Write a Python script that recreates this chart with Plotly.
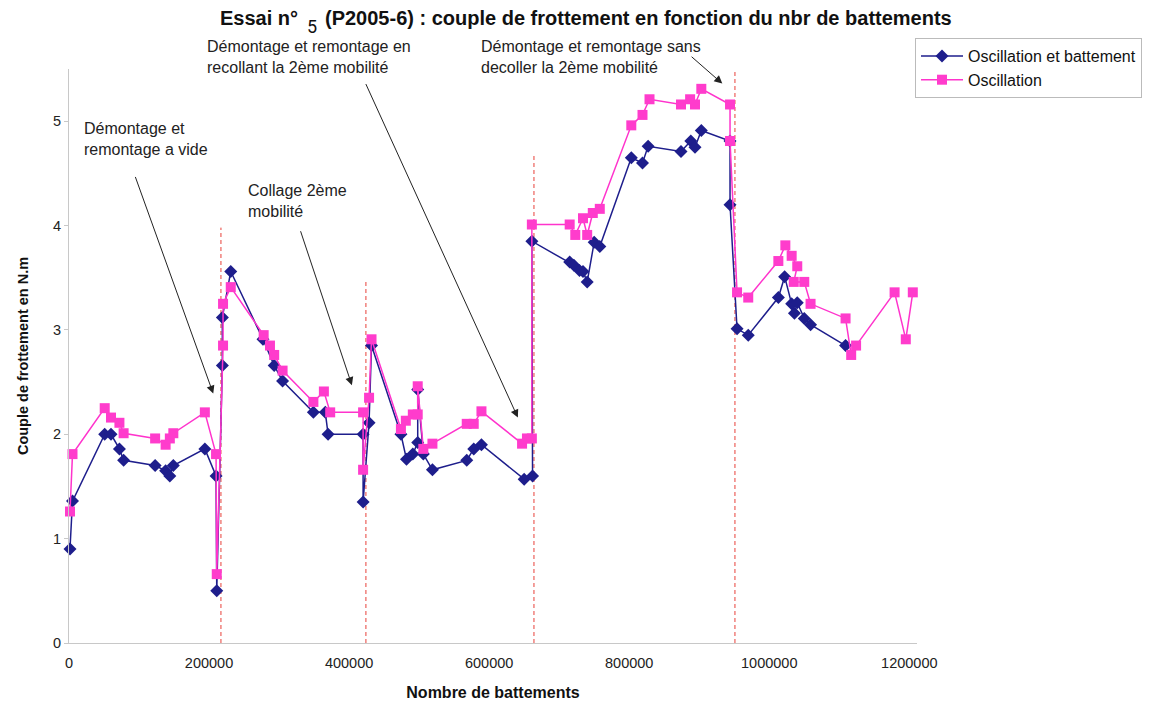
import plotly.graph_objects as go

# Number of beats (x) and friction torque (N.m) for both measurement modes
x_osc_batt = [1400, 5000, 51000, 60000, 72000, 78000, 123000, 138000, 144000, 149000, 194000, 210000, 211000,
              219000, 219000, 231000, 277000, 293000, 305000, 349000, 366000, 370000, 420000, 420000, 428500, 432000,
              474000, 482000, 491000, 498000, 498000, 506000, 519000, 568000, 578000, 589000, 650000, 662000,
              661000, 715000, 721000, 729000, 734000, 740000, 750000, 758000, 803000, 819000, 827000, 874000,
              888000, 894000, 903000, 944000, 944000, 954000, 970000, 1013000, 1022000, 1032000, 1036000, 1040000,
              1050000, 1059000, 1109000]
y_osc_batt = [0.90, 1.36, 2.00, 2.00, 1.86, 1.75, 1.70, 1.65, 1.60, 1.70, 1.86, 1.60, 0.50,
              2.66, 3.12, 3.56, 2.91, 2.66, 2.51, 2.21, 2.21, 2.00, 2.00, 1.35, 2.11, 2.85,
              2.00, 1.76, 1.81, 1.92, 2.43, 1.81, 1.66, 1.75, 1.86, 1.90, 1.57, 1.60,
              3.85, 3.65, 3.62, 3.57, 3.56, 3.46, 3.84, 3.80, 4.65, 4.60, 4.76, 4.71,
              4.81, 4.75, 4.91, 4.81, 4.20, 3.01, 2.95, 3.31, 3.51, 3.25, 3.16, 3.26,
              3.11, 3.05, 2.85]

x_osc = [1400, 5000, 51000, 60000, 72000, 78000, 123000, 138000, 144000, 149000, 194000, 210000, 211000,
         220000, 220000, 231000, 278000, 287000, 293000, 305000, 349000, 364000, 373000, 420000, 420000, 428500,
         432000, 474000, 481000, 491000, 498000, 498000, 506000, 519000, 568000, 578000, 589000, 647000, 654000,
         661000, 661000, 715000, 723000, 734000, 740000, 748000, 758000, 803000, 819000, 829000, 874000, 887000,
         894000, 903000, 944000, 944000, 954000, 970000, 1013000, 1023000, 1032000, 1040000, 1035000, 1050000,
         1059000, 1109000, 1117000, 1124000, 1179000, 1195000, 1205000]
y_osc = [1.26, 1.81, 2.25, 2.16, 2.11, 2.01, 1.96, 1.90, 1.96, 2.01, 2.21, 1.81, 0.66,
         2.85, 3.25, 3.41, 2.95, 2.85, 2.76, 2.61, 2.31, 2.41, 2.21, 2.21, 1.66, 2.35,
         2.91, 2.05, 2.13, 2.19, 2.19, 2.46, 1.86, 1.91, 2.10, 2.10, 2.22, 1.91, 1.96,
         1.96, 4.01, 4.01, 3.91, 4.07, 3.91, 4.12, 4.16, 4.96, 5.06, 5.21, 5.16, 5.21,
         5.16, 5.31, 5.16, 4.81, 3.36, 3.31, 3.66, 3.81, 3.71, 3.61, 3.46, 3.46,
         3.25, 3.11, 2.76, 2.85, 3.36, 2.91, 3.36]

# Re-assembly events: position and height of the marker line
event_x = [217000, 424000, 664000, 951000]
event_top = [3.98, 3.48, 4.68, 5.5]

# Event labels with arrow head / tail positions (data coordinates)
notes = [
    ("Démontage et<br>remontage a vide", 82, 118, (206000, 2.39), (94000, 4.48)),
    ("Collage 2ème<br>mobilité", 246, 180, (404000, 2.47), (330000, 3.96)),
    ("Démontage et remontage en<br>recollant la 2ème mobilité", 205, 36, (641000, 2.16), (423000, 5.37)),
    ("Démontage et remontage sans<br>decoller la 2ème mobilité", 479, 36, (933000, 5.36), (887000, 5.63)),
]

FONT = "Liberation Sans, Arial, sans-serif"
L, R, T, B = 69, 239, 69, 59
W, H = 1156, 702
PW, PH = W - L - R, H - T - B


def px_x(px):
    return (px - L) / PW


def px_y(py):
    return (H - B - py) / PH


fig = go.Figure()

fig.add_trace(go.Scatter(
    x=x_osc_batt, y=y_osc_batt, mode="lines+markers", name="Oscillation et battement",
    line=dict(color="#1e1e8c", width=1.5),
    marker=dict(symbol="diamond", size=10, color="#1e1e8c"),
    cliponaxis=False,
))
fig.add_trace(go.Scatter(
    x=x_osc, y=y_osc, mode="lines+markers", name="Oscillation",
    line=dict(color="#ff33cc", width=1.5),
    marker=dict(symbol="square", size=10, color="#ff3ccc"),
    cliponaxis=False,
))

shapes = []
for ex, top in zip(event_x, event_top):
    shapes.append(dict(type="line", xref="x", yref="y", x0=ex, x1=ex, y0=0, y1=top,
                       line=dict(color="#e8403a", width=1, dash="4px,3px"), layer="below"))

annotations = []
for text, px, py, head, tail in notes:
    annotations.append(dict(
        text=text, xref="paper", yref="paper", x=px_x(px), y=px_y(py),
        xanchor="left", yanchor="top", align="left", showarrow=False,
        font=dict(family=FONT, size=16, color="#222222"),
    ))
    annotations.append(dict(
        text="", xref="x", yref="y", x=head[0], y=head[1],
        axref="x", ayref="y", ax=tail[0], ay=tail[1],
        showarrow=True, arrowhead=2, arrowsize=1.6, arrowwidth=1, arrowcolor="#222222",
    ))

# Chart title, with the run number set apart in its own box
TITLE_FONT = dict(family=FONT, size=20, color="#111111")
annotations.append(dict(
    text="<b>Essai n°</b>", xref="paper", yref="paper", x=px_x(300), y=px_y(18),
    xanchor="right", yanchor="middle", showarrow=False, font=TITLE_FONT,
))
annotations.append(dict(
    text="<b>(P2005-6) : couple de frottement en fonction du nbr de battements</b>",
    xref="paper", yref="paper", x=px_x(323), y=px_y(18),
    xanchor="left", yanchor="middle", showarrow=False, font=TITLE_FONT,
))
annotations.append(dict(
    text="5", xref="paper", yref="paper", x=px_x(312), y=px_y(27),
    xanchor="center", yanchor="middle", showarrow=False, borderpad=0,
    font=dict(family="Roboto, sans-serif", size=18, color="#111111"),
))

fig.update_layout(
    width=W, height=H,
    margin=dict(l=L, r=R, t=T, b=B),
    paper_bgcolor="white", plot_bgcolor="white",
    xaxis=dict(
        range=[0, 1211000], tickvals=[0, 200000, 400000, 600000, 800000, 1000000, 1200000],
        ticktext=["0", "200000", "400000", "600000", "800000", "1000000", "1200000"],
        showgrid=False, zeroline=False, showline=True, linecolor="#c8c8c8", linewidth=1,
        ticks="outside", ticklen=7, tickcolor="white", automargin=False,
        tickfont=dict(family=FONT, size=14.5, color="#222222"),
        title=dict(text="<b>Nombre de battements</b>", font=dict(family=FONT, size=16, color="#111111"),
                   standoff=16),
    ),
    yaxis=dict(
        range=[0, 5.5], tickvals=[0, 1, 2, 3, 4, 5],
        showgrid=False, zeroline=False, showline=True, linecolor="#c8c8c8", linewidth=1,
        ticks="outside", ticklen=4, tickcolor="#c8c8c8", automargin=False,
        tickfont=dict(family=FONT, size=14.5, color="#222222"),
        title=dict(text="<b>Couple de frottement en N.m</b>", font=dict(family=FONT, size=14.5, color="#111111"),
                   standoff=20),
    ),
    legend=dict(
        x=px_x(915), y=px_y(38), xanchor="left", yanchor="top",
        bgcolor="white", bordercolor="#bbbbbb", borderwidth=1, itemwidth=42,
        font=dict(family=FONT, size=16, color="#111111"),
    ),
    shapes=shapes,
    annotations=annotations,
    showlegend=True,
)

fig.write_html("out.html")
